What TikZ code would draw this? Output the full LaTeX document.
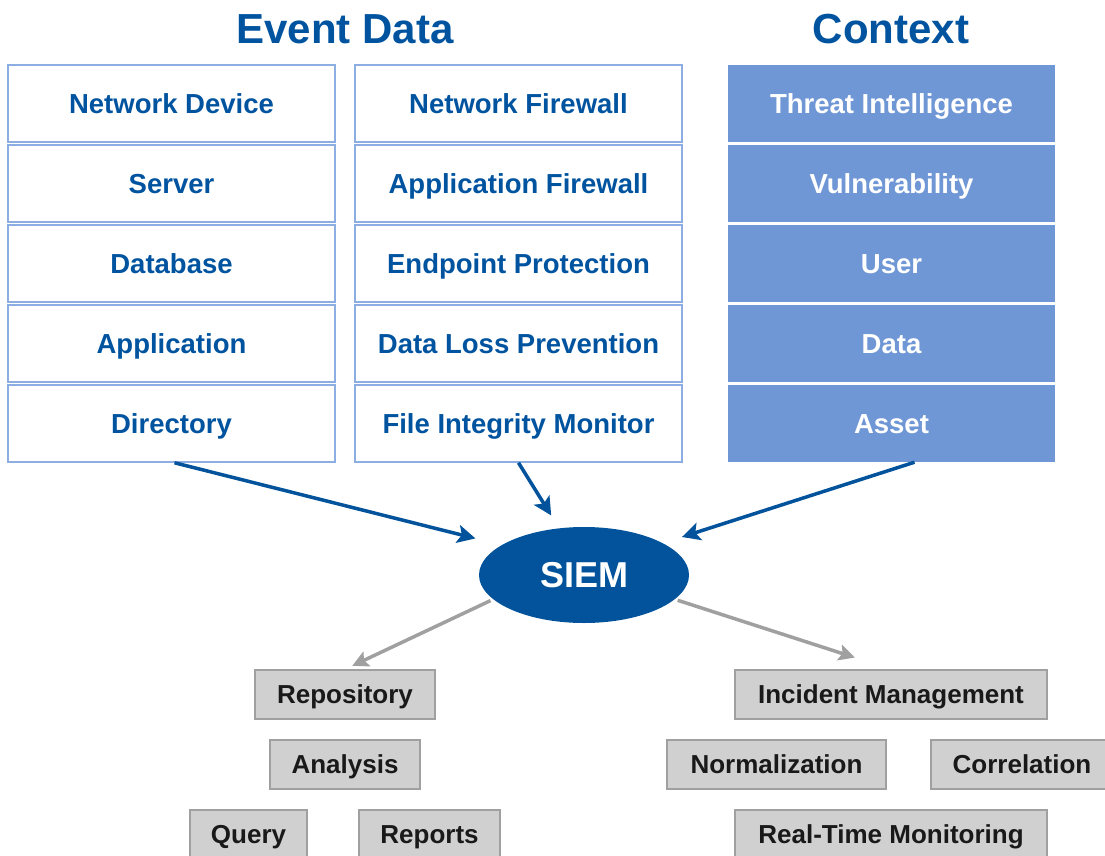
\documentclass[tikz,border=0pt]{standalone}
\usepackage{fontspec}
\setmainfont{Liberation Sans}
\usetikzlibrary{arrows.meta,shapes.geometric}
\definecolor{dblue}{RGB}{0,84,159}
\definecolor{lblue}{RGB}{141,174,226}
\definecolor{cblue}{RGB}{111,151,213}
\definecolor{sblue}{RGB}{2,83,155}
\definecolor{gfill}{RGB}{208,208,208}
\definecolor{gline}{RGB}{160,160,160}
\definecolor{garrow}{RGB}{160,160,160}
\definecolor{gtext}{RGB}{25,25,25}
\begin{document}
\begin{tikzpicture}[x=1pt,y=-1pt,
  evbox/.style={text height=19.7pt, text depth=0pt, draw=lblue, line width=1.5pt, fill=white, minimum width=327pt, minimum height=77pt, inner sep=0pt, text=dblue, font=\fontsize{27.5}{30}\selectfont\bfseries},
  ctxbox/.style={text height=19.7pt, text depth=0pt, fill=cblue, minimum width=327pt, minimum height=77pt, inner sep=0pt, text=white, font=\fontsize{27.5}{30}\selectfont\bfseries},
  title/.style={text height=30.1pt, text depth=0pt, text=dblue, inner sep=0pt, font=\fontsize{42}{46}\selectfont\bfseries},
  gbox/.style={text height=18.6pt, text depth=0pt, draw=gline, fill=gfill, line width=1.5pt, inner sep=0pt, minimum height=49pt, text=gtext, font=\fontsize{26}{28}\selectfont\bfseries},
  barrow/.style={draw=sblue, line width=3.5pt, -{Stealth[length=18pt,width=18pt,inset=4pt]}},
  garrowst/.style={draw=garrow, line width=3.5pt, -{Stealth[length=16pt,width=16pt,inset=3pt]}}
]
\clip (0,0) rectangle (1105,856);
\fill[white] (0,0) rectangle (1105,856);

\node[title] (t1) at (345,28) {Event Data};
\node[title] (t2) at (891,28) {Context};

\node[evbox] (nd)  at (171.5,103.5) {Network Device};
\node[evbox] (srv) at (171.5,183.5) {Server};
\node[evbox] (db)  at (171.5,263.5) {Database};
\node[evbox] (app) at (171.5,343.5) {Application};
\node[evbox] (dir) at (171.5,423.5) {Directory};

\node[evbox] (nf)  at (518.5,103.5) {Network Firewall};
\node[evbox] (af)  at (518.5,183.5) {Application Firewall};
\node[evbox] (ep)  at (518.5,263.5) {Endpoint Protection};
\node[evbox] (dlp) at (518.5,343.5) {Data Loss Prevention};
\node[evbox] (fim) at (518.5,423.5) {File Integrity Monitor};

\node[ctxbox] (ti)  at (891.5,103.5) {Threat Intelligence};
\node[ctxbox] (vul) at (891.5,183.5) {Vulnerability};
\node[ctxbox] (usr) at (891.5,263.5) {User};
\node[ctxbox] (dat) at (891.5,343.5) {Data};
\node[ctxbox] (ast) at (891.5,423.5) {Asset};

\node[ellipse, text height=25.8pt, text depth=0pt, fill=sblue, minimum width=210pt, minimum height=96pt, inner sep=0pt, text=white, font=\fontsize{36}{40}\selectfont\bfseries] (siem) at (584,575) {SIEM};

\node[gbox, minimum width=180pt] (rep) at (345,694.5) {Repository};
\node[gbox, minimum width=150pt] (ana) at (345,764.5) {Analysis};
\node[gbox, minimum width=117pt] (qry) at (248.5,834.5) {Query};
\node[gbox, minimum width=141pt] (rpt) at (429.5,834.5) {Reports};

\node[gbox, minimum width=312pt] (inc)  at (891,694.5) {Incident Management};
\node[gbox, minimum width=219pt] (norm) at (776.5,764.5) {Normalization};
\node[gbox, minimum width=182pt] (corr) at (1022,764.5) {Correlation};
\node[gbox, minimum width=312pt] (rtm)  at (891,834.5) {Real-Time Monitoring};

\draw[barrow, shorten >=27pt] ([xshift=3pt]dir.south) -- (siem.160);
\draw[barrow, shorten >=15pt] (fim.south) -- (siem.118);
\draw[barrow, shorten >=20pt] ([xshift=23pt]ast.south) -- (siem.22);

\draw[garrowst, shorten <=3pt, shorten >=8pt] (siem.195) -- (rep.north);
\draw[garrowst, shorten <=3pt, shorten >=38pt] (siem.345) -- (inc.north);
\end{tikzpicture}
\end{document}
